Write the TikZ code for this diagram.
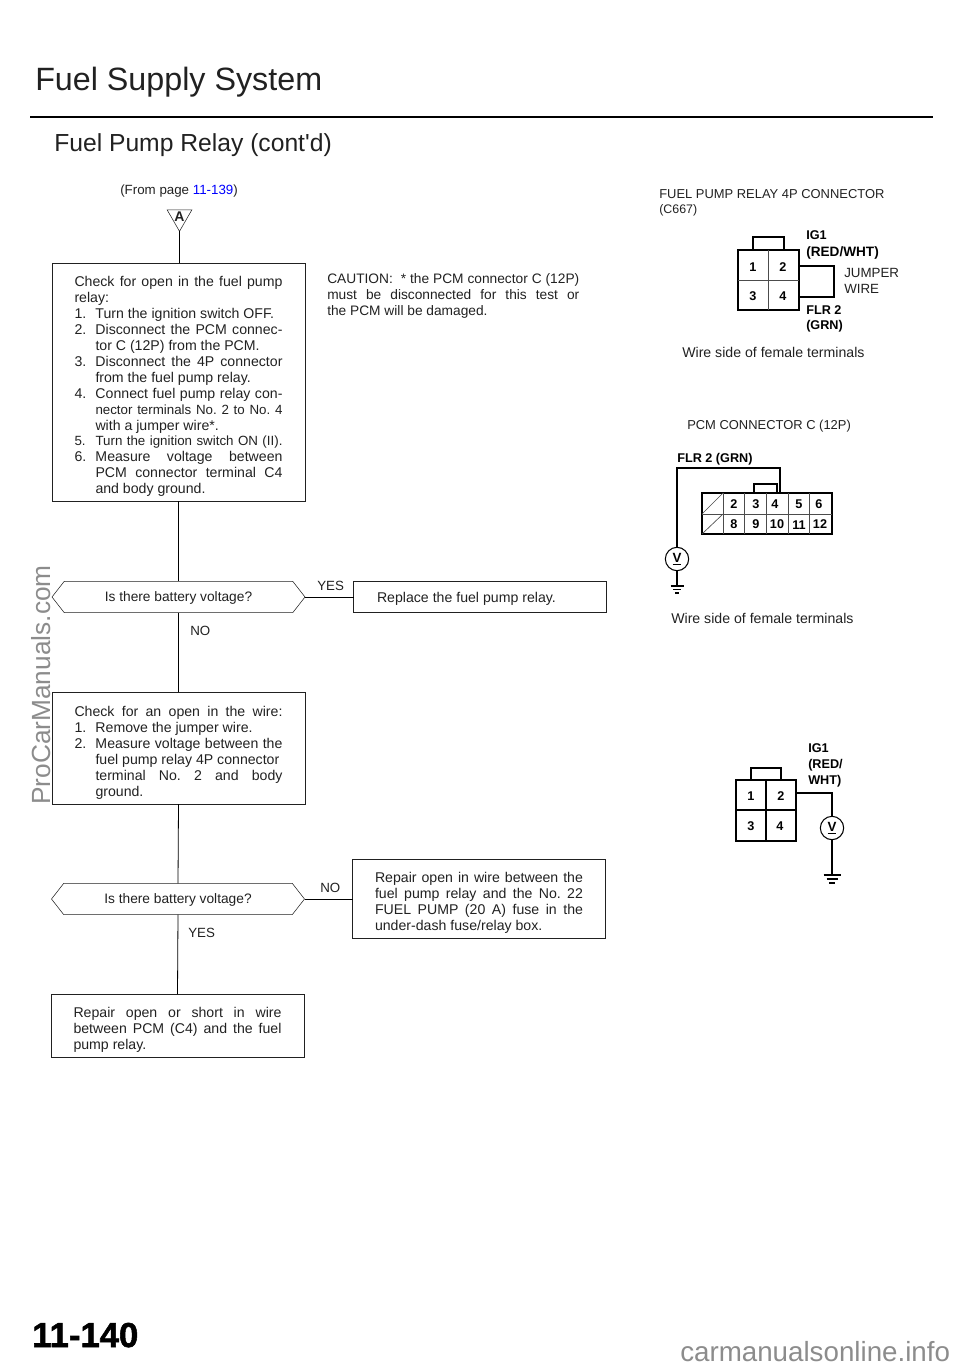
\documentclass[tikz,border=0pt]{standalone}
\usepackage{fontspec}
\setmainfont{Liberation Sans}
\newfontfamily\heavyfont[FakeBold=1.5]{Liberation Sans Bold}
\usetikzlibrary{calc,positioning,shapes.geometric,shapes.symbols}
\definecolor{inkgray}{gray}{0.13}
\definecolor{markgray}{gray}{0.55}
\newcommand{\FullLine}[1]{\makebox[156pt][s]{#1}\\}
\newcommand{\IndLine}[1]{\hspace*{15.75pt}\makebox[140.25pt][s]{#1}\\}
\newcommand{\IndText}[1]{\hspace*{15.75pt}#1\\}
\newcommand{\Num}[1]{\makebox[15.75pt][l]{#1}}
\newcommand{\Tight}{\fontsize{10}{11.95}\selectfont}
\newcommand{\TopGap}{\rule{0pt}{14.5pt}}
\newcommand{\Drop}[2]{\raisebox{#1}[0pt][0pt]{#2}}
\tikzset{
    every node/.style = {
        text = inkgray,
        },
    plain text/.style = {
        anchor = base west,
        yshift = -3.4pt,
        inner sep = 0pt,
        font = \fontsize{10}{12}\selectfont,
        },
    side text/.style = {
        plain text,
        font = \fontsize{10.6}{12}\selectfont,
        },
    wire text/.style = {
        anchor = base west,
        yshift = -3.4pt,
        inner sep = 0pt,
        font = \fontsize{9.5}{11}\selectfont\bfseries,
        text = black,
        },
    pin/.style = {
        inner sep = 0pt,
        font = \fontsize{9.5}{11}\selectfont\bfseries,
        text = black,
        },
    TextBlock/.style = {
        draw = inkgray,
        rectangle,
        inner sep = 0pt,
        outer sep = 0pt,
        minimum width = 189.75pt,
        align = left,
        font = \fontsize{10.6}{11.95}\selectfont\frenchspacing,
        },
    QuestionBlock/.style = {
        draw = inkgray,
        signal,
        signal to = west and east,
        signal pointer angle = 104,
        inner sep = 0pt,
        outer sep = 0pt,
        minimum width = 189.75pt,
        minimum height = 23.5pt,
        font = \fontsize{10.3}{12}\selectfont,
        },
    VoltMeter/.style = {
        draw = black,
        circle,
        thick,
        inner sep = 0pt,
        outer sep = 0pt,
        minimum size = 17.5pt,
        font = \fontsize{10}{12}\selectfont\bfseries,
        text = black,
        },
    connector/.style = {
        draw = black,
        line width = 0.6pt,
        },
    wire/.style = {
        draw = black,
        line width = 0.8pt,
        },
    thin cell/.style = {
        draw = black!70,
        line width = 0.5pt,
        },
}

\begin{document}
\begin{tikzpicture}[x=0.75pt, y=-0.75pt]
    \useasboundingbox (0, 0) rectangle (960, 1369);

    % headings
    \node [plain text, font=\fontsize{24.2}{28}\selectfont] (title) at (35, 86) {Fuel Supply System};
    \coordinate (ruleL) at (30, 117);
    \coordinate (ruleR) at (933, 117);
    \draw [black, line width=1.6pt] (ruleL) -- (ruleR);
    \node [plain text, font=\fontsize{18.5}{22}\selectfont] (subtitle) at (54, 146.5) {Fuel Pump Relay (cont\textquotesingle d)};

    % flow chart
    \node [plain text] (from) at (120, 190) {(From page \textcolor{blue}{11-139})};
    \node [draw=inkgray, regular polygon, regular polygon sides=3, shape border rotate=180, inner sep=0pt, outer sep=0pt, minimum size=21pt, font=\fontsize{10.5}{11}\selectfont\bfseries] (entry) at (179.5, 217) {A};

    \node [TextBlock, minimum height=178.5pt] (check1) at (178.5, 382) {%
        \TopGap\FullLine{Check for open in the fuel pump}
        relay:\\
        \Num{1.}Turn the ignition switch OFF.\\
        \FullLine{\Num{2.}Disconnect the PCM connec-}
        \IndText{tor C (12P) from the PCM.}
        \FullLine{\Num{3.}Disconnect the 4P connector}
        \IndText{from the fuel pump relay.}
        \FullLine{\Num{4.}Connect fuel pump relay con-}
        \IndLine{\Tight nector terminals No. 2 to No. 4}
        \IndText{with a jumper wire*.}
        \FullLine{\Tight\Num{5.}Turn the ignition switch ON (II).}
        \FullLine{\Num{6.}Measure voltage between}
        \IndLine{PCM connector terminal C4}
        \hspace*{15.75pt}and body ground.
        };
    \node [QuestionBlock] (question1) at (178.5, 597) {\Drop{-3.6pt}{Is there battery voltage?}};
    \node [TextBlock, minimum height=84pt] (check2) at (178.5, 748) {%
        \TopGap\FullLine{Check for an open in the wire:}
        \Num{1.}Remove the jumper wire.\\
        \FullLine{\Num{2.}Measure voltage between the}
        \IndText{fuel pump relay 4P connector}
        \IndLine{terminal No. 2 and body}
        \hspace*{15.75pt}ground.
        };
    \node [QuestionBlock] (question2) at (178, 899) {\Drop{-3.6pt}{Is there battery voltage?}};
    \node [TextBlock, minimum height=47.25pt] (repair2) at (177.5, 1025.5) {%
        \TopGap\FullLine{Repair open or short in wire}
        \FullLine{between PCM (C4) and the fuel}
        pump relay.
        };
    \node [TextBlock, minimum height=23.25pt] (replace) at (480, 596.5) {\Drop{-4.5pt}{\makebox[154.5pt][l]{Replace the fuel pump relay.}}};
    \node [TextBlock, minimum height=59.25pt] (repair1) at (479, 898.5) {%
        \TopGap\FullLine{Repair open in wire between the}
        \FullLine{fuel pump relay and the No. 22}
        \FullLine{FUEL PUMP (20 A) fuse in the}
        under-dash fuse/relay box.
        };

    \draw [connector] (entry.south) -- (entry.south |- check1.north);
    \draw [connector] (check1.south) -- (question1.north);
    \draw [connector] (question1.south) -- (check2.north);
    \draw [connector] (check2.south) -- (question2.north);
    \draw [connector] (question2.south) -- (repair2.north);
    \draw [connector] (question1.east) -- (replace.west |- question1.east);
    \draw [connector] (question2.east) -- (repair1.west |- question2.east);

    \node [plain text] (yes1) at (317, 586) {YES};
    \node [plain text] (no1) at (190, 631) {NO};
    \node [plain text] (no2) at (320, 888) {NO};
    \node [plain text] (yes2) at (188, 933) {YES};

    \node [anchor=west, inner sep=0pt, align=left, font=\fontsize{10.3}{12}\selectfont\frenchspacing] (caution) at (327, 296) {%
        \makebox[189pt][s]{CAUTION: \ * the PCM connector C (12P)}\\
        \makebox[189pt][s]{must be disconnected for this test or}\\
        the PCM will be damaged.
        };

    % relay connector with jumper
    \node [plain text, font=\fontsize{9.7}{12}\selectfont] (relayTitle) at (659, 194) {FUEL PUMP RELAY 4P CONNECTOR};
    \node [plain text, font=\fontsize{9.3}{12}\selectfont] (relayCode) at (659, 209) {(C667)};
    \draw [wire] (738, 250) rectangle (799, 310);
    \draw [wire] (753, 250) |- (784, 237) -- (784, 250);
    \draw [thin cell] (768, 250) -- (768, 310) (738, 280) -- (799, 280);
    \node [pin] (r1) at (753, 267) {1};
    \node [pin] (r2) at (783, 267) {2};
    \node [pin] (r3) at (753, 296) {3};
    \node [pin] (r4) at (783, 296) {4};
    \draw [wire] (799, 266) -| (834, 297) -- (799, 297);
    \node [wire text] (ig1) at (806, 235) {IG1};
    \node [wire text, font=\fontsize{10.2}{11}\selectfont\bfseries] (redwht) at (806, 252) {(RED/WHT)};
    \node [plain text] (jumper) at (844, 273) {JUMPER};
    \node [plain text] (jwire) at (844, 289) {WIRE};
    \node [wire text] (flr) at (806, 310) {FLR 2};
    \node [wire text] (grn) at (806, 325) {(GRN)};
    \node [side text] (side1) at (682, 353) {Wire side of female terminals};

    % PCM connector
    \node [plain text, font=\fontsize{9.7}{12}\selectfont] (pcmTitle) at (687, 425) {PCM CONNECTOR C (12P)};
    \node [wire text] (flrgrn) at (677, 458) {FLR 2 (GRN)};
    \draw [wire] (702, 493) rectangle (832, 534);
    \draw [wire] (754, 493) |- (777, 484) -- (777, 493);
    \draw [thin cell] (702, 514) -- (832, 514);
    \draw [thin cell] (723, 493) -- (723, 534) (744, 493) -- (744, 534) (766, 493) -- (766, 534) (788, 493) -- (788, 534) (809, 493) -- (809, 534);
    \draw [thin cell] (702, 514) -- (723, 493) (702, 534) -- (723, 514);
    \node [pin] (p2) at (734, 504) {2};
    \node [pin] (p3) at (756, 504) {3};
    \node [pin] (p4) at (775, 504) {4};
    \node [pin] (p5) at (799, 504) {5};
    \node [pin] (p6) at (819, 504) {6};
    \node [pin] (p8) at (734, 524) {8};
    \node [pin] (p9) at (756, 524) {9};
    \node [pin] (p10) at (777, 524) {10};
    \node [pin] (p11) at (799, 525) {11};
    \node [pin] (p12) at (820, 524) {12};
    \node [VoltMeter] (meter1) at (677, 559) {\underline{V}};
    \coordinate (pcmPin) at (780, 493);
    \coordinate (gnd1) at (677, 586);
    \draw [wire] (pcmPin) |- (677, 468) -- (meter1.north);
    \draw [wire] (meter1.south) -- (gnd1);
    \draw [wire] ($(gnd1)+(-6.5, 0)$) -- ($(gnd1)+(6.5, 0)$) ($(gnd1)+(-4, 3.5)$) -- ($(gnd1)+(4, 3.5)$) ($(gnd1)+(-2, 7)$) -- ($(gnd1)+(2, 7)$);
    \node [side text] (side2) at (671, 619) {Wire side of female terminals};

    % relay connector with voltmeter
    \draw [wire] (736, 780) rectangle (796, 841);
    \draw [wire] (751, 780) |- (781, 768) -- (781, 780);
    \draw [wire] (766, 780) -- (766, 841) (736, 810) -- (796, 810);
    \node [pin] (s1) at (751, 796) {1};
    \node [pin] (s2) at (781, 796) {2};
    \node [pin] (s3) at (751, 826) {3};
    \node [pin] (s4) at (780, 826) {4};
    \node [wire text] (ig1b) at (808, 748) {IG1};
    \node [wire text] (red) at (808, 764) {(RED/};
    \node [wire text] (wht) at (808, 780) {WHT)};
    \node [VoltMeter] (meter2) at (832, 828) {\underline{V}};
    \coordinate (relayPin) at (796, 793);
    \coordinate (gnd2) at (832, 875);
    \draw [wire] (relayPin) -| (meter2.north);
    \draw [wire] (meter2.south) -- (gnd2);
    \draw [wire] ($(gnd2)+(-8.5, 0)$) -- ($(gnd2)+(8.5, 0)$) ($(gnd2)+(-5.5, 4)$) -- ($(gnd2)+(5.5, 4)$) ($(gnd2)+(-3, 8)$) -- ($(gnd2)+(3, 8)$);

    % page marks
    \node [plain text, font=\fontsize{26}{28}\heavyfont, text=black] (page) at (32, 1342.5) {11-140};
    \node [inner sep=0pt, rotate=90, text=markgray, font=\fontsize{19.7}{22}\selectfont] (markL) at (41, 685) {ProCarManuals.com};
    \node [plain text, text=markgray, font=\fontsize{20.8}{24}\selectfont] (markR) at (680, 1357) {carmanualsonline.info};
\end{tikzpicture}
\end{document}
